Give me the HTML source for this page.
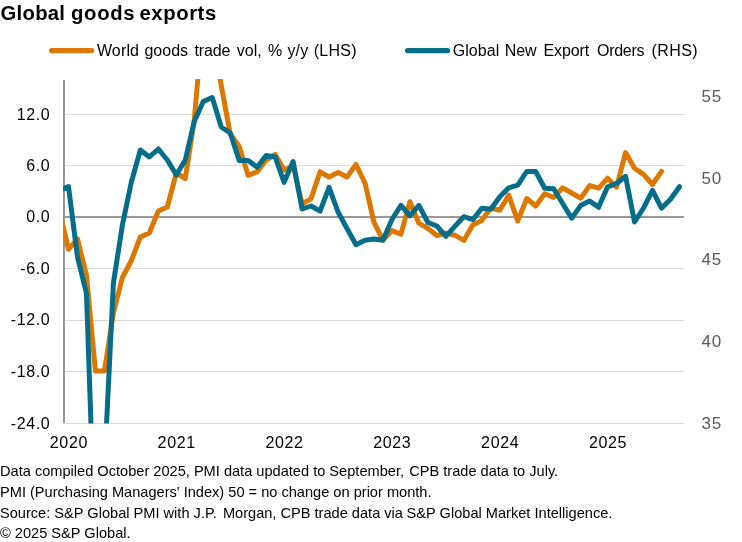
<!DOCTYPE html>
<html><head><meta charset="utf-8"><title>Global goods exports</title>
<style>
html,body{margin:0;padding:0;background:#fff;}
body{width:742px;height:542px;overflow:hidden;}
svg{display:block;}
text{font-family:"Liberation Sans",Arial,sans-serif;fill:#000;}
.t{font-weight:bold;font-size:20.3px;}
.l{font-size:16px;}
.a{font-size:16px;letter-spacing:0.65px;}
.x{font-size:16px;letter-spacing:0.65px;}
.r{font-size:17px;fill:#595959;letter-spacing:0.9px;}
.f{font-size:14.6px;}
</style></head><body>
<svg width="742" height="542" viewBox="0 0 742 542">
<rect width="742" height="542" fill="#fff"/>
<text class="t" y="20.4"><tspan x="0.6" style="letter-spacing:0.25px">Global </tspan><tspan x="71" style="letter-spacing:0.7px">goods </tspan><tspan x="139.4" style="letter-spacing:0.6px">exports</tspan></text>
<line x1="51.7" y1="50.55" x2="91.7" y2="50.55" stroke="#DC7800" stroke-width="5.2" stroke-linecap="round"/>
<text class="l" y="56"><tspan x="96.9" style="letter-spacing:0.15px">World </tspan><tspan x="144.4" style="letter-spacing:0.03px">goods </tspan><tspan x="194.4" style="letter-spacing:-0.1px">trade </tspan><tspan x="236.8" style="letter-spacing:0px">vol, </tspan><tspan x="267.9" style="letter-spacing:0px">% </tspan><tspan x="287.4" style="letter-spacing:0.18px">y/y </tspan><tspan x="313.7" style="letter-spacing:0.25px">(LHS)</tspan></text>
<line x1="407.6" y1="50.55" x2="447.6" y2="50.55" stroke="#036D8A" stroke-width="5.2" stroke-linecap="round"/>
<text class="l" y="56"><tspan x="452.7" style="letter-spacing:0.08px">Global </tspan><tspan x="504.8" style="letter-spacing:-0.15px">New </tspan><tspan x="543.5" style="letter-spacing:-0.1px">Export </tspan><tspan x="597.1" style="letter-spacing:-0.3px">Orders </tspan><tspan x="651.4" style="letter-spacing:0.45px">(RHS)</tspan></text>

<line x1="64" y1="114.5" x2="684" y2="114.5" stroke="#D9D9D9" stroke-width="1"/>
<line x1="64" y1="165.5" x2="684" y2="165.5" stroke="#D9D9D9" stroke-width="1"/>
<line x1="64" y1="268.5" x2="684" y2="268.5" stroke="#D9D9D9" stroke-width="1"/>
<line x1="64" y1="320.5" x2="684" y2="320.5" stroke="#D9D9D9" stroke-width="1"/>
<line x1="64" y1="371.5" x2="684" y2="371.5" stroke="#D9D9D9" stroke-width="1"/>
<line x1="63" y1="423.5" x2="684" y2="423.5" stroke="#D9D9D9" stroke-width="1"/>
<line x1="64" y1="80" x2="64" y2="423" stroke="#9A9A9A" stroke-width="2"/>
<line x1="63" y1="217" x2="684" y2="217" stroke="#9A9A9A" stroke-width="2"/>
<clipPath id="c"><rect x="63.1" y="79" width="620.9" height="344.6"/></clipPath>
<g clip-path="url(#c)" fill="none" stroke-width="5" stroke-linejoin="round" stroke-linecap="round">
<polyline stroke="#DC7800" points="59.50,211.0 68.49,249.3 77.47,239.0 86.46,275.0 95.44,371.0 104.43,371.0 113.41,313.0 122.40,277.5 131.38,260.5 140.37,237.0 149.35,233.0 158.34,211.0 167.32,207.0 176.31,173.0 185.29,178.5 194.28,120.0 203.26,16.5 212.25,33.0 221.24,85.5 230.22,134.0 239.20,146.5 248.19,175.4 257.18,171.7 266.16,160.0 275.14,154.5 284.13,170.0 293.12,166.0 302.10,204.0 311.08,198.6 320.07,171.9 329.06,177.0 338.04,172.6 347.02,177.0 356.01,164.5 365.00,183.0 373.98,222.4 382.96,240.0 391.95,230.6 400.94,234.3 409.92,201.7 418.90,223.2 427.89,228.5 436.88,235.5 445.86,233.0 454.84,235.2 463.83,240.4 472.81,224.9 481.80,220.4 490.78,208.0 499.77,210.3 508.75,195.2 517.74,221.1 526.72,198.5 535.71,206.0 544.69,193.7 553.68,197.4 562.66,187.8 571.65,193.0 580.63,198.2 589.62,185.6 598.61,188.2 607.59,178.2 616.57,187.2 625.56,152.6 634.54,168.2 643.53,174.4 652.51,184.5 661.50,171.4"/>
<polyline stroke="#036D8A" points="59.50,190.4 68.49,186.5 77.47,257.0 86.46,293.5 95.44,552.0 104.43,467.0 113.41,283.0 122.40,225.0 131.38,182.0 140.37,150.0 149.35,157.0 158.34,149.0 167.32,160.0 176.31,175.0 185.29,160.0 194.28,121.5 203.26,101.5 212.25,97.5 221.24,127.0 230.22,133.0 239.20,160.6 248.19,160.6 257.18,167.3 266.16,155.4 275.14,157.0 284.13,182.3 293.12,161.5 302.10,209.0 311.08,206.0 320.07,211.2 329.06,187.4 338.04,212.0 347.02,228.5 356.01,244.7 365.00,240.2 373.98,239.0 382.96,240.2 391.95,219.5 400.94,205.4 409.92,215.8 418.90,205.4 427.89,222.5 436.88,226.0 445.86,236.3 454.84,226.3 463.83,216.7 472.81,219.7 481.80,208.2 490.78,209.3 499.77,196.7 508.75,187.8 517.74,185.2 526.72,171.5 535.71,171.5 544.69,188.2 553.68,188.8 562.66,203.5 571.65,218.2 580.63,205.6 589.62,201.1 598.61,207.3 607.59,186.8 616.57,183.5 625.56,176.3 634.54,222.0 643.53,208.0 652.51,190.4 661.50,208.2 670.49,199.3 679.47,186.7"/>
</g>
<text class="a" x="50.4" y="119.6" text-anchor="end">12.0</text>
<text class="a" x="50.4" y="170.7" text-anchor="end">6.0</text>
<text class="a" x="50.4" y="222.3" text-anchor="end">0.0</text>
<text class="a" x="50.4" y="273.7" text-anchor="end">-6.0</text>
<text class="a" x="50.4" y="325.2" text-anchor="end">-12.0</text>
<text class="a" x="50.4" y="376.7" text-anchor="end">-18.0</text>
<text class="a" x="50.4" y="428.6" text-anchor="end">-24.0</text>
<text class="r" x="701.5" y="102.1">55</text>
<text class="r" x="701.5" y="183.7">50</text>
<text class="r" x="701.5" y="265.4">45</text>
<text class="r" x="701.5" y="347.1">40</text>
<text class="r" x="701.5" y="428.8">35</text>
<text class="x" x="68.9" y="448" text-anchor="middle">2020</text>
<text class="x" x="176.7" y="448" text-anchor="middle">2021</text>
<text class="x" x="284.5" y="448" text-anchor="middle">2022</text>
<text class="x" x="392.3" y="448" text-anchor="middle">2023</text>
<text class="x" x="500.2" y="448" text-anchor="middle">2024</text>
<text class="x" x="608.0" y="448" text-anchor="middle">2025</text>
<text class="f" y="475.9"><tspan x="0">Data compiled October 2025, PMI data updated to September, </tspan><tspan x="409.2">CPB trade data to July.</tspan></text>
<text class="f" x="0" y="496.8">PMI (Purchasing Managers' Index) 50 = no change on prior month.</text>
<text class="f" y="517.6"><tspan x="0">Source: S&amp;P Global PMI with J.P. </tspan><tspan x="222.9">Morgan, CPB trade data via </tspan><tspan x="406.6">S&amp;P Global Market Intelligence.</tspan></text>
<text class="f" x="0" y="538.4">© 2025 S&amp;P Global.</text>
</svg></body></html>
